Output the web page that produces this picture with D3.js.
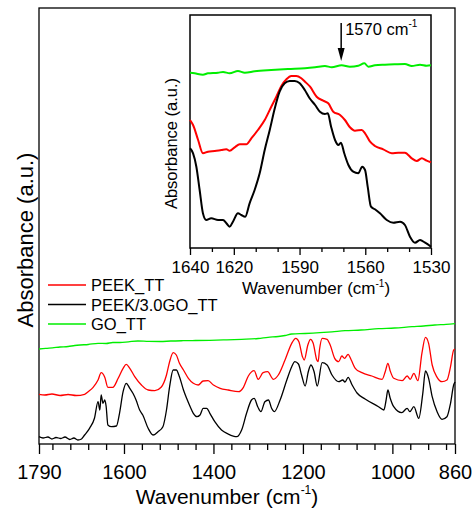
<!DOCTYPE html>
<html><head><meta charset="utf-8">
<script src="https://cdn.jsdelivr.net/npm/d3@7"></script>
<style>
body{margin:0;background:#fff}
text{font-family:"Liberation Sans",Arial,Helvetica,sans-serif;fill:#000}
</style>
</head><body>
<svg id="chart" width="476" height="512"></svg>
<script>
// ---------- DATA (wavenumber cm-1, absorbance a.u., offset-stacked) ----------
const seriesNames = ["PEEK_TT", "PEEK/3.0GO_TT", "GO_TT"];
const seriesColors = ["#ff0000", "#000000", "#00ee00"];

const mainPEEK = [[1790,0.497],[1777,0.49],[1761,0.50],[1743,0.485],[1725,0.495],[1707,0.485],[1688,0.497],[1680,0.523],[1669,0.567],[1658,0.64],[1651,0.713],[1643,0.667],[1636,0.567],[1625,0.567],[1613,0.657],[1602,0.757],[1595,0.797],[1587,0.757],[1576,0.673],[1561,0.59],[1546,0.54],[1531,0.533],[1517,0.567],[1505,0.69],[1498,0.823],[1490,0.913],[1483,0.89],[1476,0.807],[1467,0.74],[1456,0.657],[1445,0.607],[1434,0.59],[1423,0.63],[1412,0.633],[1400,0.59],[1385,0.557],[1367,0.54],[1344,0.523],[1333,0.567],[1322,0.68],[1309,0.733],[1300,0.647],[1289,0.713],[1279,0.723],[1266,0.647],[1255,0.69],[1240,0.84],[1225,1.007],[1216,1.057],[1209,1.023],[1201,0.873],[1197,0.84],[1189,0.99],[1183,1.047],[1177,1.007],[1169,0.84],[1166,0.823],[1163,0.94],[1157,1.057],[1146,1.047],[1139,0.99],[1129,0.857],[1120,0.823],[1113,0.88],[1107,0.857],[1099,0.897],[1092,0.84],[1083,0.757],[1068,0.713],[1046,0.68],[1023,0.647],[1016,0.723],[1010,0.807],[1005,0.733],[997,0.657],[978,0.633],[967,0.68],[960,0.647],[952,0.707],[943,0.633],[934,0.907],[926,1.067],[919,1.007],[911,0.79],[900,0.667],[889,0.623],[878,0.64],[870,0.773],[863,0.94],[860,0.95]];

const mainPEEKGO = [[1790,0.073],[1781,0.06],[1770,0.07],[1761,0.05],[1752,0.065],[1741,0.055],[1732,0.07],[1721,0.045],[1712,0.06],[1703,0.04],[1695,0.05],[1688,0.09],[1677,0.157],[1666,0.257],[1658,0.423],[1654,0.34],[1651,0.49],[1647,0.407],[1643,0.44],[1640,0.38],[1636,0.19],[1628,0.173],[1617,0.18],[1610,0.307],[1602,0.523],[1595,0.607],[1587,0.557],[1580,0.507],[1573,0.44],[1565,0.34],[1558,0.29],[1546,0.157],[1535,0.09],[1524,0.123],[1513,0.173],[1505,0.34],[1498,0.573],[1490,0.74],[1483,0.74],[1476,0.673],[1467,0.54],[1460,0.457],[1452,0.373],[1445,0.307],[1437,0.273],[1430,0.29],[1423,0.357],[1415,0.357],[1408,0.307],[1397,0.223],[1382,0.14],[1367,0.10],[1348,0.073],[1337,0.14],[1326,0.307],[1315,0.44],[1309,0.457],[1301,0.373],[1294,0.323],[1285,0.423],[1277,0.44],[1270,0.357],[1264,0.323],[1251,0.44],[1236,0.64],[1225,0.773],[1218,0.823],[1210,0.80],[1203,0.69],[1195,0.58],[1188,0.723],[1182,0.79],[1175,0.723],[1168,0.58],[1157,0.813],[1146,0.79],[1135,0.69],[1120,0.623],[1111,0.64],[1106,0.62],[1099,0.667],[1090,0.59],[1079,0.51],[1061,0.45],[1031,0.373],[1019,0.34],[1014,0.44],[1010,0.54],[1005,0.46],[997,0.373],[979,0.313],[967,0.357],[961,0.323],[952,0.373],[941,0.257],[932,0.507],[926,0.73],[919,0.657],[911,0.473],[900,0.323],[889,0.247],[878,0.273],[870,0.407],[863,0.59],[860,0.62]];

const mainGO = [[1790,0.95],[1775,0.957],[1760,0.962],[1743,0.97],[1725,0.975],[1710,0.985],[1698,0.99],[1680,0.995],[1658,1.007],[1640,1.005],[1625,1.015],[1609,1.015],[1590,1.022],[1569,1.03],[1545,1.026],[1519,1.025],[1495,1.03],[1468,1.033],[1440,1.035],[1408,1.037],[1370,1.042],[1337,1.047],[1300,1.055],[1278,1.067],[1255,1.075],[1240,1.085],[1225,1.10],[1195,1.105],[1162,1.113],[1135,1.122],[1106,1.133],[1070,1.14],[1031,1.153],[995,1.16],[956,1.173],[930,1.18],[905,1.19],[880,1.196],[860,1.203]];

const insetPEEK = [[1640,1.28],[1638.6,1.23],[1636.3,1.08],[1634.1,0.947],[1631.8,0.963],[1628.7,0.97],[1625.7,0.98],[1623.4,0.987],[1621.9,0.973],[1619.6,1.007],[1617.3,1.037],[1614.3,1.037],[1612.0,1.097],[1609.0,1.18],[1605.9,1.28],[1602.9,1.413],[1600.6,1.513],[1598.3,1.62],[1596.0,1.687],[1593.8,1.72],[1591.5,1.72],[1589.2,1.697],[1587.5,1.663],[1585.2,1.613],[1582.2,1.513],[1579.2,1.473],[1576.9,1.447],[1574.6,1.363],[1571.5,1.33],[1569.3,1.28],[1567.0,1.207],[1564.7,1.173],[1561.6,1.18],[1560.1,1.147],[1557.8,1.063],[1555.6,1.02],[1551.8,0.987],[1547.9,0.947],[1544.9,0.953],[1541.9,0.953],[1538.8,0.897],[1536.5,0.87],[1534.2,0.897],[1532.0,0.873],[1530,0.857]];

const insetPEEKGO = [[1640,0.997],[1638.6,0.947],[1637.1,0.813],[1635.6,0.58],[1634.1,0.347],[1632.6,0.28],[1630.3,0.297],[1627.2,0.28],[1624.9,0.28],[1623.4,0.247],[1621.9,0.213],[1620.4,0.263],[1618.1,0.347],[1616.6,0.33],[1614.8,0.313],[1612.8,0.447],[1610.5,0.58],[1608.2,0.747],[1605.9,0.98],[1603.6,1.18],[1601.3,1.397],[1599.1,1.563],[1596.8,1.647],[1594.5,1.67],[1592.2,1.67],[1589.9,1.647],[1587.6,1.58],[1585.4,1.497],[1582.9,1.43],[1580.7,1.363],[1578.4,1.34],[1577.1,1.347],[1575.6,1.213],[1573.8,1.08],[1572.3,1.03],[1571.1,1.053],[1569.6,0.947],[1567.7,0.83],[1565.5,0.763],[1563.2,0.747],[1561.4,0.813],[1560.1,0.78],[1558.9,0.613],[1557.4,0.413],[1555.6,0.387],[1553.3,0.347],[1550.2,0.28],[1547.2,0.253],[1544.1,0.263],[1541.9,0.23],[1539.6,0.113],[1537.3,0.053],[1535.0,0.08],[1532.7,0.053],[1530,0.013]];

const insetGO = [[1640,1.753],[1637.9,1.747],[1634.1,1.733],[1631.8,1.747],[1627.2,1.753],[1624.9,1.76],[1621.9,1.747],[1618.1,1.77],[1615.0,1.753],[1610.5,1.767],[1602.9,1.78],[1595.3,1.79],[1587.5,1.797],[1582.9,1.807],[1578.4,1.82],[1575.3,1.807],[1570.8,1.827],[1567.0,1.813],[1563.2,1.823],[1560.4,1.847],[1558.6,1.813],[1555.6,1.827],[1551.0,1.833],[1546.4,1.837],[1541.9,1.84],[1538.8,1.82],[1535.0,1.833],[1532.0,1.823],[1530,1.827]];

const mainMajorTicks = [1790, 1600, 1400, 1200, 1000, 860];
const mainMinorStep = 40;
const insetMajorTicks = [1640, 1620, 1590, 1560, 1530];
const insetMinorStep = 10;
const annotationWn = 1571, annotationLabel = "1570 cm", annotationSup = "-1";
const annotationTop = 2.25, annotationTip = 1.87;

// ---------- DRAW ----------
const svg = d3.select("#chart");
const FONT = '"Liberation Sans",Arial,sans-serif';

const x = d3.scaleLinear().domain([1790, 860]).range([39, 455]);
const y = d3.scaleLinear().domain([0, 4.36]).range([444, 8]);

// main frame
svg.append("rect").attr("x", x(1790)).attr("y", y(4.36))
  .attr("width", x(860) - x(1790)).attr("height", y(0) - y(4.36))
  .attr("fill", "none").attr("stroke", "#000").attr("stroke-width", 1.3);

const mainMinor = d3.range(1760, 860, -mainMinorStep).filter(v => !mainMajorTicks.includes(v));
const gxMinor = svg.append("g").attr("transform", `translate(0,${y(0)})`)
  .call(d3.axisBottom(x).tickValues(mainMinor).tickSize(6).tickFormat(""));
gxMinor.select(".domain").remove();
const gx = svg.append("g").attr("transform", `translate(0,${y(0)})`)
  .call(d3.axisBottom(x).tickValues(mainMajorTicks).tickSize(10).tickPadding(11).tickFormat(d3.format("d")));
gx.select(".domain").remove();
svg.selectAll(".tick line").attr("stroke-width", 1.3);
gx.selectAll("text").attr("font-size", 20).attr("font-family", FONT);

const lineMain = d3.line().x(d => x(d[0])).y(d => y(d[1])).curve(d3.curveMonotoneX);
[[mainGO, 2], [mainPEEK, 0], [mainPEEKGO, 1]].forEach(([data, i]) => {
  svg.append("path").datum(data).attr("d", lineMain)
    .attr("fill", "none").attr("stroke", seriesColors[i]).attr("stroke-width", 1.3)
    .attr("stroke-linejoin", "round");
});

// main axis titles
const xt = svg.append("text").attr("x", 227).attr("y", 504).attr("text-anchor", "middle")
  .attr("font-size", 21);
xt.append("tspan").text("Wavenumber (cm");
xt.append("tspan").attr("font-size", 12).attr("dy", -10).text("-1");
xt.append("tspan").attr("dy", 10).text(")");
svg.append("text").attr("transform", "translate(33,240) rotate(-90)")
  .attr("text-anchor", "middle").attr("font-size", 22).text("Absorbance (a.u.)");

// legend
const legendY = [285, 304.5, 324];
seriesNames.forEach((name, i) => {
  svg.append("line").attr("x1", 48).attr("x2", 86).attr("y1", legendY[i]).attr("y2", legendY[i])
    .attr("stroke", seriesColors[i]).attr("stroke-width", 1.3);
  svg.append("text").attr("x", 91).attr("y", legendY[i] + 6).attr("font-size", 16.5).text(name);
});

// ---------- INSET ----------
const xi = d3.scaleLinear().domain([1640, 1530]).range([190, 431]);
const yi = d3.scaleLinear().domain([0, 2.33]).range([248, 15]);

svg.append("rect").attr("x", xi(1640)).attr("y", yi(2.33))
  .attr("width", xi(1530) - xi(1640)).attr("height", yi(0) - yi(2.33))
  .attr("fill", "#fff").attr("stroke", "#000").attr("stroke-width", 1.5);

const insetMinor = d3.range(1630, 1530, -insetMinorStep).filter(v => !insetMajorTicks.includes(v));
const gixm = svg.append("g").attr("transform", `translate(0,${yi(0)})`)
  .call(d3.axisBottom(xi).tickValues(insetMinor).tickSize(4).tickFormat(""));
gixm.select(".domain").remove();
const gix = svg.append("g").attr("transform", `translate(0,${yi(0)})`)
  .call(d3.axisBottom(xi).tickValues(insetMajorTicks).tickSize(7).tickPadding(6).tickFormat(d3.format("d")));
gix.select(".domain").remove();
gixm.selectAll(".tick line").attr("stroke-width", 1.3);
gix.selectAll(".tick line").attr("stroke-width", 1.3);
gix.selectAll("text").attr("font-size", 17).attr("font-family", FONT);

const lineInset = d3.line().x(d => xi(d[0])).y(d => yi(d[1])).curve(d3.curveMonotoneX);
[[insetGO, 2], [insetPEEK, 0], [insetPEEKGO, 1]].forEach(([data, i]) => {
  svg.append("path").datum(data).attr("d", lineInset)
    .attr("fill", "none").attr("stroke", seriesColors[i]).attr("stroke-width", 2)
    .attr("stroke-linejoin", "round");
});

const ixt = svg.append("text").attr("x", 316).attr("y", 294).attr("text-anchor", "middle")
  .attr("font-size", 17);
ixt.append("tspan").text("Wavenumber (cm");
ixt.append("tspan").attr("font-size", 10).attr("dy", -7).text("-1");
ixt.append("tspan").attr("dy", 7).text(")");
svg.append("text").attr("transform", "translate(177,143.5) rotate(-90)")
  .attr("text-anchor", "middle").attr("font-size", 16.5).text("Absorbance (a.u.)");

// annotation arrow
const ax = xi(annotationWn);
svg.append("line").attr("x1", ax).attr("x2", ax).attr("y1", yi(annotationTop)).attr("y2", yi(annotationTip) - 8)
  .attr("stroke", "#000").attr("stroke-width", 1.5);
svg.append("path")
  .attr("d", `M${ax - 3.5},${yi(annotationTip) - 13} L${ax + 3.5},${yi(annotationTip) - 13} L${ax},${yi(annotationTip)} Z`)
  .attr("fill", "#000");
const at = svg.append("text").attr("x", ax + 4).attr("y", 35).attr("font-size", 16.5);
at.append("tspan").text(annotationLabel);
at.append("tspan").attr("font-size", 10).attr("dy", -8).text(annotationSup);
</script>
</body></html>
